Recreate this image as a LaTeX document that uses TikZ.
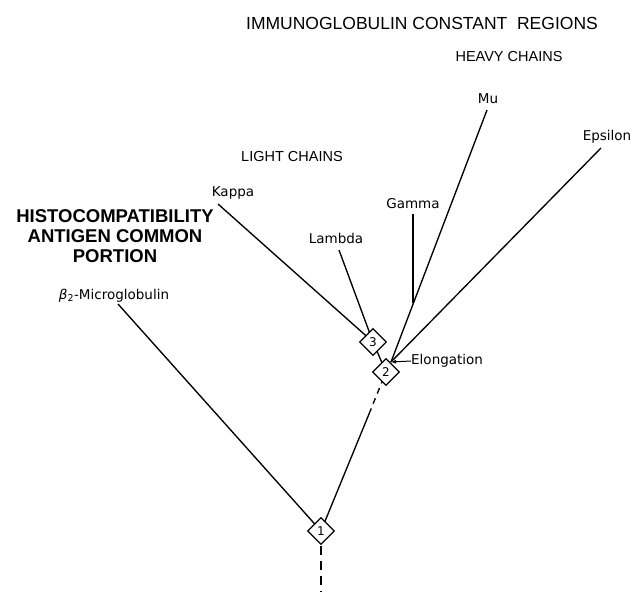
\documentclass[tikz,border=0pt]{standalone}
\usepackage{fontspec}
\setmainfont{Liberation Sans}
\newfontfamily\lblfont{DejaVu Sans}
\usetikzlibrary{shapes.geometric, arrows.meta}

\tikzset{
  branch/.style={line width=1.35pt},
  locus/.style={diamond, draw, line width=1.3pt, fill=white, inner sep=0pt,
    minimum size=27pt, font=\lblfont\fontsize{12}{12}\selectfont},
  gene/.style={font=\lblfont\fontsize{13.5}{13.5}\selectfont, inner sep=0pt},
  heading/.style={font=\fontsize{14.5}{14.5}\selectfont, inner sep=0pt},
}

\begin{document}
\begin{tikzpicture}[x=1pt, y=-1pt]
  \useasboundingbox (0,0) rectangle (642,593);

  % headings
  \node[font=\fontsize{17.5}{17.5}\selectfont, inner sep=0pt] (title) at (422,23) {IMMUNOGLOBULIN CONSTANT\ \ REGIONS};
  \node[heading] (heavy) at (509,57) {HEAVY CHAINS};
  \node[heading] (light) at (292,157) {LIGHT CHAINS};
  \node[font=\bfseries\fontsize{18.5}{20}\selectfont, align=center, inner sep=0pt] (hla) at (115,236)
    {HISTOCOMPATIBILITY\\ANTIGEN COMMON\\PORTION};

  % gene labels
  \node[gene] (mu) at (488,99) {Mu};
  \node[gene] (epsilon) at (607,137) {Epsilon};
  \node[gene] (kappa) at (233,193) {Kappa};
  \node[gene] (gamma) at (413,204) {Gamma};
  \node[gene] (lambda) at (336,238) {Lambda};
  \node[gene] (beta) at (114,296) {\textit{β}\textsubscript{2}-Microglobulin};
  \node[gene, anchor=west] (elong) at (411,361) {Elongation};

  % branch ends
  \coordinate (mu end) at (487,110);
  \coordinate (eps end) at (601,148);
  \coordinate (kappa end) at (218,204);
  \coordinate (gamma end) at (413,214);
  \coordinate (gamma join) at (413,303);
  \coordinate (lambda end) at (339,250);
  \coordinate (beta end) at (118,304);
  \coordinate (jn) at (391,362);
  \coordinate (brk) at (369,414);
  \coordinate (root) at (321,592);

  % branches
  \draw[branch] (mu end) -- (jn);
  \draw[branch] (eps end) -- (jn);
  \draw[branch] (gamma end) -- (gamma join);
  \draw[branch] (kappa end) -- (373,342);
  \draw[branch] (lambda end) -- (373,342);
  \draw[branch] (beta end) -- (321,531);
  \draw[branch] (373,342) -- (386,372);
  \draw[branch] (321,531) -- (brk);
  \draw[branch, dash pattern=on 6pt off 5pt] (brk) -- (386,372);
  \draw[branch, dash pattern=on 9pt off 6pt] (321,531) -- (root);

  % gene duplication loci
  \node[locus] (d3) at (373,342) {3};
  \node[locus] (d2) at (386,372) {2};
  \node[locus] (d1) at (321,531) {1};

  \draw[line width=1pt, -{Latex[length=5pt, width=4pt]}] (elong.west) -- (jn);

\end{tikzpicture}
\end{document}
